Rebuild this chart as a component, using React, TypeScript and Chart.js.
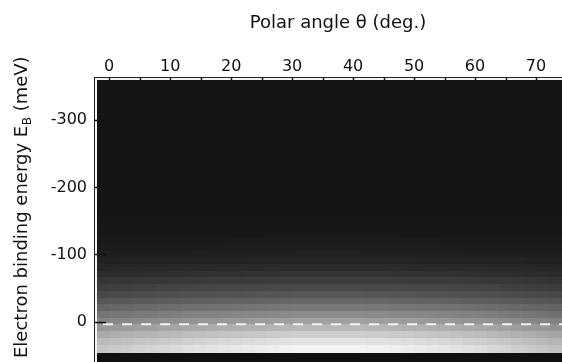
import React, { useEffect, useRef } from "react";
import { Chart, registerables } from "chart.js";

Chart.register(...registerables);

// Polar angle column centres (deg), each cell 2 deg wide
const angleCenters = [
  -1, 1, 3, 5, 7, 9, 11, 13, 15, 17, 19, 21, 23, 25, 27, 29, 31, 33, 35, 37, 39,
  41, 43, 45, 47, 49, 51, 53, 55, 57, 59, 61, 63, 65, 67, 69, 71, 73, 75, 77, 79,
];
// relative angular brightness read along the bright rows
const angleEnvelope = [
  0.8, 0.82, 0.83, 0.85, 0.86, 0.88, 0.89, 0.91, 0.92, 0.93, 0.94, 0.95, 0.96,
  0.97, 0.98, 0.99, 1.0, 1.0, 1.0, 1.0, 1.0, 1.0, 0.99, 0.99, 0.98, 0.97, 0.96,
  0.95, 0.94, 0.93, 0.91, 0.9, 0.88, 0.86, 0.84, 0.82, 0.8, 0.78, 0.77, 0.76,
  0.75,
];
// Binding energy row centres (meV), each row 10 meV high
const energyCenters = [
  -360, -350, -340, -330, -320, -310, -300, -290, -280, -270, -260, -250, -240,
  -230, -220, -210, -200, -190, -180, -170, -160, -150, -140, -130, -120, -110,
  -100, -90, -80, -70, -60, -50, -40, -30, -20, -10, 0, 10, 20, 30, 40,
];
// relative intensity of each energy row
const energyProfile = [
  0, 0, 0, 0, 0, 0, 0, 0, 0, 0, 0, 0, 0, 0, 0, 0, 0, 0, 0, 0, 0.005, 0.01,
  0.015, 0.02, 0.03, 0.04, 0.05, 0.07, 0.1, 0.135, 0.18, 0.23, 0.29, 0.36, 0.44,
  0.52, 0.61, 0.71, 0.81, 0.9, 0.97,
];

const xTicks = [0, 10, 20, 30, 40, 50, 60, 70];
const xMinorTicks = [5, 15, 25, 35, 45, 55, 65, 75];
const yTicks = [-300, -200, -100, 0];
const fermiLevel = [
  { x: -1, y: 4 },
  { x: 80, y: 4 },
];

const CELL_W = 2;
const CELL_H = 10;
const BG = 20;
const TOP = 250;
const FONT = "'DejaVu Sans'";

const heatmapPlugin = {
  id: "heatmap",
  beforeDatasetsDraw(chart: any) {
    const { ctx, chartArea: a, scales } = chart;
    const xs = scales.x;
    const ys = scales.y;
    ctx.save();
    ctx.beginPath();
    ctx.rect(a.left, a.top, a.right - a.left, a.bottom - a.top);
    ctx.clip();
    ctx.fillStyle = "#101010";
    ctx.fillRect(a.left, a.top, a.right - a.left, a.bottom - a.top);
    energyCenters.forEach((e, r) => {
      const y1 = ys.getPixelForValue(e - CELL_H / 2);
      const y2 = ys.getPixelForValue(e + CELL_H / 2);
      angleCenters.forEach((t, c) => {
        const x1 = xs.getPixelForValue(t - CELL_W / 2);
        const x2 = xs.getPixelForValue(t + CELL_W / 2);
        const g = Math.round(BG + energyProfile[r] * angleEnvelope[c] * (TOP - BG));
        ctx.fillStyle = `rgb(${g},${g},${g})`;
        ctx.fillRect(
          Math.floor(x1),
          Math.floor(Math.min(y1, y2)),
          Math.ceil(Math.abs(x2 - x1)) + 1,
          Math.ceil(Math.abs(y2 - y1)) + 1
        );
      });
    });
    ctx.restore();
  },
  afterDatasetsDraw(chart: any) {
    const { ctx, chartArea: a, scales } = chart;
    const xs = scales.x;
    const ys = scales.y;
    ctx.save();
    // frame: dark outer line and white inner line
    ctx.strokeStyle = "#222";
    ctx.lineWidth = 1;
    ctx.strokeRect(a.left - 2.5, a.top - 2.5, a.right - a.left + 5, a.bottom - a.top + 5);
    ctx.strokeStyle = "#f4f4f4";
    ctx.lineWidth = 2;
    ctx.strokeRect(a.left - 1, a.top - 1, a.right - a.left + 2, a.bottom - a.top + 2);
    // inward ticks
    ctx.strokeStyle = "#111";
    ctx.lineWidth = 1.5;
    [...xTicks, ...xMinorTicks].forEach((v) => {
      const px = Math.round(xs.getPixelForValue(v)) + 0.5;
      ctx.beginPath();
      ctx.moveTo(px, a.top - 3);
      ctx.lineTo(px, a.top + 3);
      ctx.stroke();
    });
    yTicks.forEach((v) => {
      const py = Math.round(ys.getPixelForValue(v)) + 0.5;
      ctx.beginPath();
      ctx.moveTo(a.left - 3, py);
      ctx.lineTo(a.left + 9, py);
      ctx.stroke();
    });
    ctx.restore();
  },
  afterDraw(chart: any) {
    const { ctx } = chart;
    ctx.save();
    ctx.fillStyle = "#111";
    // x title
    ctx.font = `18px ${FONT}`;
    ctx.textAlign = "center";
    ctx.textBaseline = "middle";
    ctx.fillText("Polar angle θ (deg.)", 338, 23);
    // y title with subscript
    ctx.translate(27, 358);
    ctx.rotate(-Math.PI / 2);
    ctx.textAlign = "left";
    ctx.textBaseline = "alphabetic";
    const big = `18px ${FONT}`;
    const small = `12px ${FONT}`;
    let x = 0;
    ctx.font = big;
    const p1 = "Electron binding energy E";
    ctx.fillText(p1, x, 0);
    x += ctx.measureText(p1).width + 0.5;
    ctx.font = small;
    ctx.fillText("B", x, 4);
    x += ctx.measureText("B").width;
    ctx.font = big;
    ctx.fillText(" (meV)", x, 0);
    ctx.restore();
  },
};

export default function App() {
  const ref = useRef<HTMLCanvasElement | null>(null);
  useEffect(() => {
    if (!ref.current) return;
    const tickFont = { family: FONT, size: 16 };
    const chart = new Chart(ref.current, {
      type: "scatter",
      data: {
        datasets: [
          {
            data: fermiLevel,
            showLine: true,
            borderColor: "#f2f2f2",
            borderWidth: 2,
            borderDash: [10, 9],
            pointRadius: 0,
            fill: false,
          },
        ],
      },
      options: {
        animation: false,
        responsive: false,
        maintainAspectRatio: false,
        devicePixelRatio: 1,
        layout: { padding: { left: 0, top: 0, right: 3, bottom: 3 } },
        plugins: { legend: { display: false }, tooltip: { enabled: false } },
        scales: {
          x: {
            type: "linear",
            position: "top",
            min: -2,
            max: 80,
            grid: { display: false, drawTicks: false },
            border: { display: false },
            ticks: { font: tickFont, color: "#111", padding: 4 },
            afterBuildTicks: (s: any) => {
              s.ticks = xTicks.map((v) => ({ value: v }));
            },
            afterFit: (s: any) => {
              s.height = 80;
              s.paddingLeft = 0;
              s.paddingRight = 0;
            },
          },
          y: {
            type: "linear",
            reverse: true,
            min: -360,
            max: 90,
            grid: { display: false, drawTicks: false },
            border: { display: false },
            ticks: { font: tickFont, color: "#111", padding: 10 },
            afterBuildTicks: (s: any) => {
              s.ticks = yTicks.map((v) => ({ value: v }));
            },
            afterFit: (s: any) => {
              s.width = 97;
              s.paddingTop = 0;
              s.paddingBottom = 0;
            },
          },
        },
      },
      plugins: [heatmapPlugin],
    });
    return () => chart.destroy();
  }, []);
  return (
    <div
      style={{
        position: "absolute",
        left: 0,
        top: 0,
        width: 562,
        height: 362,
        overflow: "hidden",
        background: "#fff",
      }}
    >
      <canvas ref={ref} width={600} height={385} style={{ width: 600, height: 385 }} />
    </div>
  );
}
